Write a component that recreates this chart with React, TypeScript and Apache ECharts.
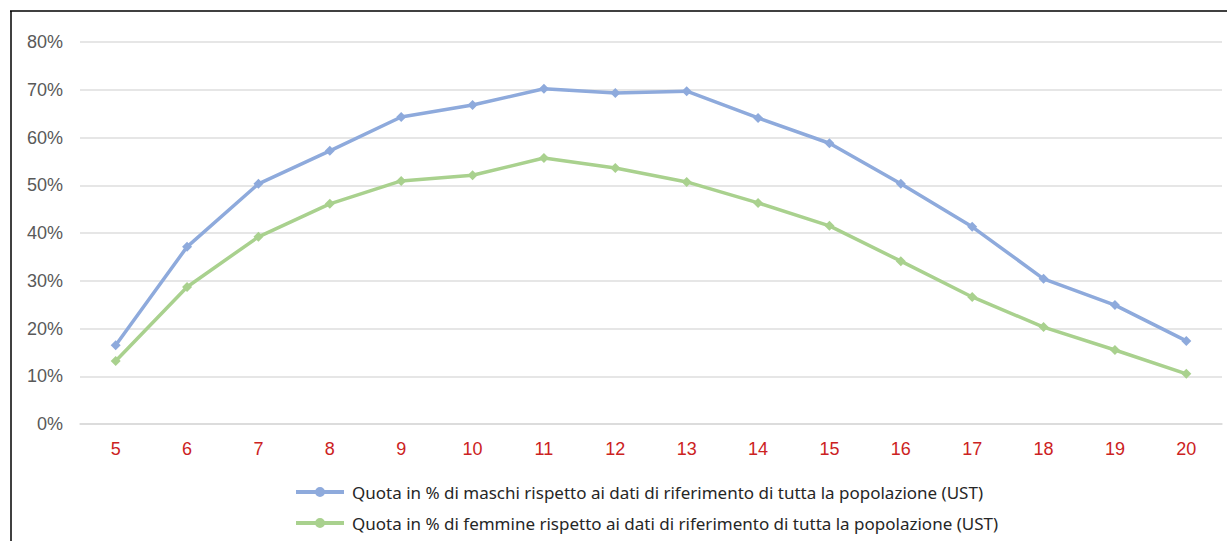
import React, { useEffect, useRef } from "react";
import * as echarts from "echarts";

const categories = ["5", "6", "7", "8", "9", "10", "11", "12", "13", "14", "15", "16", "17", "18", "19", "20"];
const maschi = [16.5, 37.1, 50.3, 57.2, 64.3, 66.8, 70.2, 69.3, 69.7, 64.1, 58.8, 50.3, 41.3, 30.4, 24.9, 17.4];
const femmine = [13.2, 28.7, 39.2, 46.1, 50.9, 52.1, 55.7, 53.6, 50.7, 46.3, 41.5, 34.1, 26.6, 20.3, 15.5, 10.5];
const seriesNames = [
  "Quota in % di maschi rispetto ai dati di riferimento di tutta la popolazione (UST)",
  "Quota in % di femmine rispetto ai dati di riferimento di tutta la popolazione (UST)",
];

const legendIcon =
  "path://M0,4.5 H19.5 V8.5 H0 Z M28.5,4.5 H48 V8.5 H28.5 Z M19,6.5 A5,5 0 1,1 29,6.5 A5,5 0 1,1 19,6.5 Z";

export default function App() {
  const ref = useRef<HTMLDivElement>(null);
  useEffect(() => {
    if (!ref.current) return;
    const chart = echarts.init(ref.current, null, { renderer: "svg" });
    chart.setOption({
      animation: false,
      backgroundColor: "#ffffff",
      grid: { left: 80, right: 5, top: 42, bottom: 117, containLabel: false },
      xAxis: {
        type: "category",
        data: categories,
        boundaryGap: true,
        axisLine: { show: true, lineStyle: { color: "#d9d9d9", width: 1.5 } },
        axisTick: { show: false },
        axisLabel: { color: "#cc2222", fontSize: 18, fontFamily: "'Liberation Sans', Arial, sans-serif", margin: 16 },
      },
      yAxis: {
        type: "value",
        min: 0,
        max: 80,
        interval: 10,
        axisLine: { show: false },
        axisTick: { show: false },
        axisLabel: { formatter: "{value}%", color: "#595959", fontSize: 18, fontFamily: "'Liberation Sans', Arial, sans-serif", margin: 17 },
        splitLine: { lineStyle: { color: "#dedede", width: 1.5 } },
      },
      legend: {
        orient: "vertical",
        left: 291,
        top: 478,
        itemWidth: 48,
        itemHeight: 13,
        itemGap: 13,
        textStyle: { color: "#262626", fontSize: 17, lineHeight: 18, fontFamily: "'Noto Sans', sans-serif", padding: [0, 0, 0, 3] },
        data: seriesNames.map((n) => ({ name: n, icon: legendIcon })),
      },
      series: [
        {
          name: seriesNames[0],
          type: "line",
          data: maschi,
          symbol: "diamond",
          symbolSize: 10,
          lineStyle: { color: "#8eaadc", width: 3.5 },
          itemStyle: { color: "#8eaadc" },
        },
        {
          name: seriesNames[1],
          type: "line",
          data: femmine,
          symbol: "diamond",
          symbolSize: 10,
          lineStyle: { color: "#a9d18e", width: 3.5 },
          itemStyle: { color: "#a9d18e" },
        },
      ],
      graphic: [
        { type: "line", shape: { x1: 10, y1: 11, x2: 1227, y2: 11 }, style: { stroke: "#000000", lineWidth: 1.5 } },
        { type: "line", shape: { x1: 11, y1: 11, x2: 11, y2: 541 }, style: { stroke: "#000000", lineWidth: 1.5 } },
      ],
    });
    return () => chart.dispose();
  }, []);
  return <div ref={ref} style={{ position: "fixed", left: 0, top: 0, width: 1227, height: 541 }} />;
}
